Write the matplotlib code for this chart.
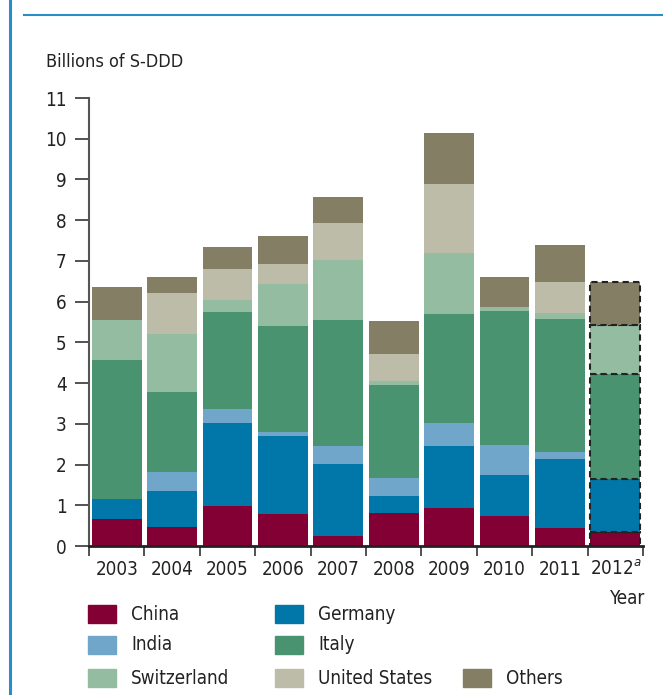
import numpy as np
import matplotlib
matplotlib.use('Agg')
import matplotlib.pyplot as plt
from matplotlib.lines import Line2D
from matplotlib.patches import Rectangle

plt.rcParams['font.family'] = ['DejaVu Sans']
plt.rcParams['font.stretch'] = 'condensed'

# ==========================================
# data (Billions of S-DDD)
# ==========================================
years = ['2003', '2004', '2005', '2006', '2007', '2008', '2009', '2010', '2011', '2012']
china = [0.66, 0.47, 0.98, 0.79, 0.25, 0.81, 0.93, 0.74, 0.44, 0.34]
germany = [0.50, 0.88, 2.04, 1.91, 1.77, 0.42, 1.53, 1.01, 1.70, 1.31]
india = [0.00, 0.47, 0.35, 0.10, 0.44, 0.44, 0.56, 0.73, 0.17, 0.00]
italy = [3.41, 1.97, 2.38, 2.61, 3.10, 2.29, 2.68, 3.30, 3.27, 2.58]
switzerland = [0.99, 1.42, 0.30, 1.03, 1.47, 0.10, 1.50, 0.10, 0.15, 1.20]
united_states = [0.00, 0.99, 0.76, 0.49, 0.91, 0.66, 1.68, 0.00, 0.76, 0.00]
others = [0.81, 0.41, 0.52, 0.69, 0.64, 0.81, 1.25, 0.73, 0.89, 1.04]

series = [
    ('China', china, '#820033'),
    ('Germany', germany, '#0077a8'),
    ('India', india, '#70a6ca'),
    ('Italy', italy, '#4a9370'),
    ('Switzerland', switzerland, '#93bca0'),
    ('United States', united_states, '#bdbca8'),
    ('Others', others, '#847e64'),
]

fig = plt.figure(figsize=(6.63, 6.95), dpi=100)
ax = fig.add_axes([89 / 663, 1 - 546 / 695, 554 / 663, 448 / 695])

x = np.arange(len(years))
bottom = np.zeros(len(years))
for name, vals, color in series:
    vals = np.array(vals)
    bars = ax.bar(x, vals, width=0.9, bottom=bottom, color=color, linewidth=0)
    # estimate year drawn with dashed outline
    last = bars[-1]
    if vals[-1] > 0:
        last.set_edgecolor('#222222')
        last.set_linewidth(1.5)
        last.set_linestyle((0, (3, 2)))
    bottom += vals

ax.set_xlim(-0.5, len(years) - 0.5)
ax.set_ylim(0, 11)
ax.set_yticks(range(0, 12))

# ticks at category boundaries, labels at centres
ax.set_xticks(np.arange(-0.5, len(years)), minor=False)
ax.set_xticklabels([])
ax.set_xticks(x, minor=True)
ax.set_xticklabels(years[:-1] + ['2012$^{\\mathit{a}}$'], minor=True)
ax.tick_params(axis='x', which='major', length=7, width=1.3, color='#444444', direction='out')
ax.tick_params(axis='x', which='minor', length=0, pad=10, labelsize=13.5, labelcolor='#222222')
ax.tick_params(axis='y', length=10, width=1.3, color='#444444', pad=6, labelsize=13.5, labelcolor='#222222')

for s in ['top', 'right']:
    ax.spines[s].set_visible(False)
ax.spines['left'].set_color('#555555')
ax.spines['left'].set_linewidth(1.5)
ax.spines['bottom'].set_color('#222222')
ax.spines['bottom'].set_linewidth(2)

fig.text(46 / 663, 1 - 62 / 695, 'Billions of S-DDD', fontsize=13, color='#222222', va='center', ha='left')
fig.text(645 / 663, 1 - 598 / 695, 'Year', fontsize=13.5, color='#222222', va='center', ha='right')

# legend (manual grid like the original)
col_x = [88, 275, 463]
row_y = [614, 645, 678]
for i, (name, vals, color) in enumerate(series):
    cx = col_x[i % 2] if i < 6 else col_x[2]
    cy = row_y[min(i // 2, 2)]
    fig.patches.append(Rectangle((cx / 663, 1 - (cy + 9) / 695), 28 / 663, 18 / 695,
                                 transform=fig.transFigure, color=color, figure=fig))
    fig.text((cx + 43) / 663, 1 - cy / 695, name, fontsize=13.5, color='#222222', va='center', ha='left')

# blue frame lines of the page
fig.add_artist(Line2D([10 / 663, 10 / 663], [0, 1], color='#2a8ec6', linewidth=2.2))
fig.add_artist(Line2D([24 / 663, 1], [1 - 15 / 695, 1 - 15 / 695], color='#2a8ec6', linewidth=1.5))

fig.savefig('out.png', dpi=100)
